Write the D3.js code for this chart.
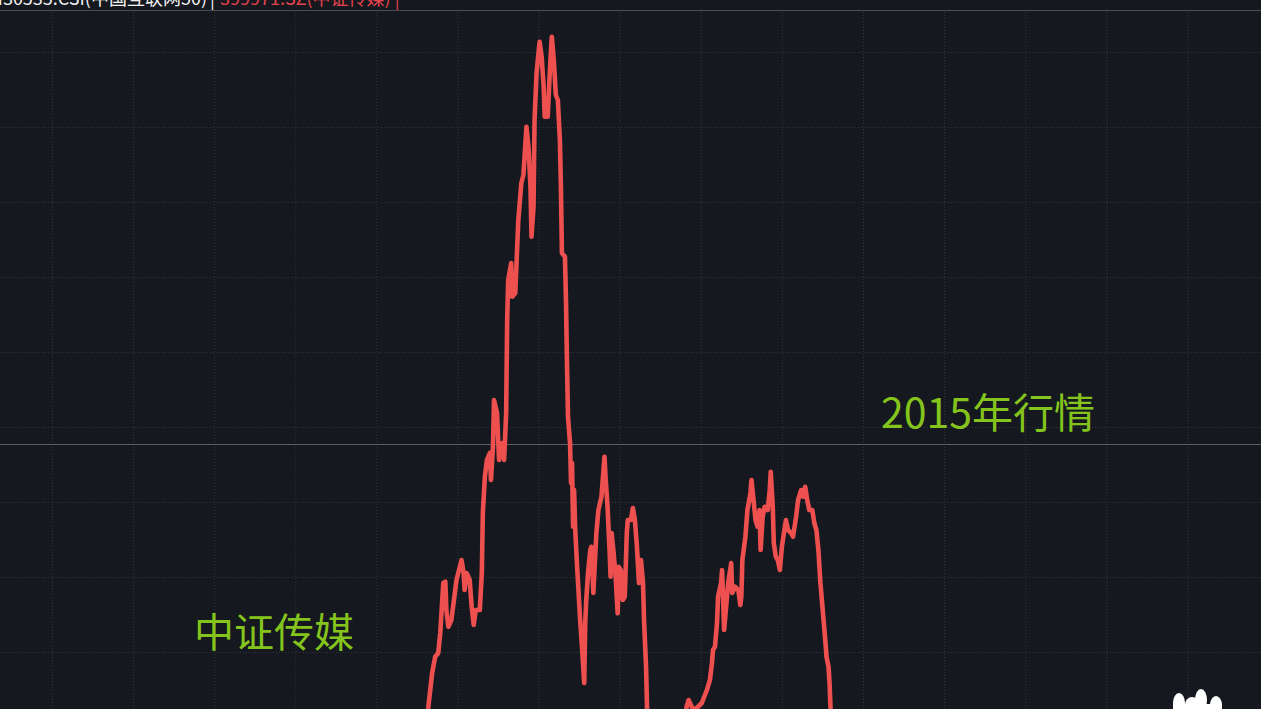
<!DOCTYPE html>
<html>
<head>
<meta charset="utf-8">
<script src="https://cdn.jsdelivr.net/npm/d3@7"></script>
<style>
  html, body { margin: 0; padding: 0; background: #15181e; overflow: hidden; }
  svg { display: block; }
  text { font-family: "Noto Sans CJK SC", "Noto Sans", sans-serif; }
</style>
</head>
<body>
<svg id="chart" width="1261" height="709"></svg>
<script>
// ---- data (trading-day index, index level of 399971.SZ 中证传媒) ----
const days = [
  363,371,375,378,381,383,386,388,389,391,394,399,404,406,407,409,412,414,416,418,
  422,424,425,427,429,432,433,435,436,439,441,444,446,448,449,450,453,454,457,460,
  463,465,468,470,472,473,475,476,478,481,483,485,486,489,491,493,495,497,499,501,
  502,503,506,507,508,509,511,512,513,514,515,516,518,521,523,525,526,527,529,531,
  532,534,536,537,539,542,545,546,548,550,551,552,554,556,558,559,561,563,565,567,
  568,571,573,575,577,579,581,583,584,586,587,588,605,623,626,628,631,634,641,646,
  649,651,652,654,656,657,660,661,663,665,667,670,671,674,677,679,680,681,684,686,
  689,690,692,694,696,698,699,701,703,706,708,709,711,712,714,716,718,720,722,724,
  726,729,731,734,736,739,741,743,745,747,750,752,754,756,758,760,763,764,766,767,
  768,770
];
const values = [
  568,772,916,981,996,1076,1276,1281,1168,1101,1128,1288,1368,1316,1248,1316,1288,1181,1108,1168,
  1168,1316,1556,1701,1768,1796,1688,1821,2008,1956,1768,1836,1768,1956,2328,2488,2556,2421,2436,2728,
  2876,2908,3101,3021,2861,2661,2781,3128,3316,3441,3381,3261,3141,3141,3316,3461,3368,3228,3208,3048,
  2861,2596,2581,2408,2156,1941,1836,1676,1756,1501,1648,1501,1341,1128,1008,876,1116,1208,1328,1408,
  1421,1236,1396,1476,1568,1621,1781,1701,1581,1408,1301,1476,1396,1301,1155,1341,1328,1208,1221,1476,
  1528,1528,1576,1528,1421,1276,1368,1276,1128,941,772,568,448,648,781,808,781,768,796,848,
  888,956,1008,1021,1116,1221,1276,1328,1088,1181,1276,1356,1236,1261,1248,1188,1221,1368,1461,1568,
  1636,1688,1608,1528,1501,1568,1408,1541,1581,1568,1648,1721,1581,1436,1381,1368,1328,1421,1476,1528,
  1488,1476,1461,1541,1608,1648,1621,1661,1608,1568,1568,1516,1488,1408,1276,1181,1036,981,941,876,
  772,568
];
const yTicks = [1000, 1300, 1600, 1900, 2200, 2500, 2800, 3100, 3400];
const xTicks = [0, 80, 160, 240, 320, 400, 480, 560, 640, 720, 800, 880, 960, 1040, 1120];
const crosshairValue = 1832;
const headerWhite = "H30535.CSI(中国互联网50)";
const headerRed = "399971.SZ(中证传媒)";
const labelSeries = "中证传媒";
const labelPeriod = "2015年行情";

// ---- layout ----
const W = 1261, H = 709;
const svg = d3.select("#chart");
const x = d3.scaleLinear().domain([0, 1200]).range([52, 52 + 81.1 * 15]);
const y = d3.scaleLinear().domain([1000, 3400]).range([652, 52]);
const headerY = 10;

svg.append("rect").attr("width", W).attr("height", H).attr("fill", "#15181e");

// grid via axes
const gx = svg.append("g").attr("transform", `translate(0,${H})`)
  .call(d3.axisBottom(x).tickValues(xTicks).tickSize(-(H - headerY)).tickFormat(""));
const gy = svg.append("g")
  .call(d3.axisLeft(y).tickValues(yTicks).tickSize(-W).tickFormat(""));
[gx, gy].forEach(g => {
  g.select(".domain").remove();
  g.selectAll(".tick line")
    .attr("stroke", "#31353d")
    .attr("stroke-width", 1)
    .attr("stroke-dasharray", "1,2");
});

// header separator
svg.append("line").attr("x1", 0).attr("x2", W)
  .attr("y1", headerY + 0.5).attr("y2", headerY + 0.5)
  .attr("stroke", "#4a4d53").attr("stroke-width", 1);

// crosshair
svg.append("line").attr("x1", 0).attr("x2", W)
  .attr("y1", Math.round(y(crosshairValue)) + 0.5).attr("y2", Math.round(y(crosshairValue)) + 0.5)
  .attr("stroke", "#5a5d62").attr("stroke-width", 1);

// series line
const data = days.map((d, i) => ({ d, v: values[i] }));
svg.append("path")
  .datum(data)
  .attr("fill", "none")
  .attr("stroke", "#ee5050")
  .attr("stroke-width", 4.6)
  .attr("stroke-linejoin", "round")
  .attr("stroke-linecap", "round")
  .attr("d", d3.line().x(p => x(p.d)).y(p => y(p.v)));

// header text (partly above the top edge, as in the source screenshot)
svg.append("text").attr("x", 207).attr("y", 5).attr("text-anchor", "end")
  .attr("font-size", 18).attr("fill", "#f0f0f0").text(headerWhite);
svg.append("text").attr("x", 210).attr("y", 5)
  .attr("font-size", 18).attr("fill", "#f0f0f0").text("|");
svg.append("text").attr("x", 220).attr("y", 5)
  .attr("font-size", 18).attr("fill", "#e5434d").text(headerRed + " |");

// annotations
svg.append("text").attr("x", 194).attr("y", 647)
  .attr("font-size", 40).attr("fill", "#84c41c").text(labelSeries);
svg.append("text").attr("x", 881).attr("y", 428)
  .attr("font-size", 41).attr("fill", "#84c41c").text(labelPeriod);

// white decoration bottom-right
const deco = svg.append("g").attr("fill", "#ffffff");
[[1179, 703, 6, 10], [1192, 705, 7, 8], [1201, 700, 6, 11], [1216, 705, 6, 9]]
  .forEach(e => deco.append("ellipse").attr("cx", e[0]).attr("cy", e[1]).attr("rx", e[2]).attr("ry", e[3]));
deco.append("rect").attr("x", 1173).attr("y", 704).attr("width", 49).attr("height", 5);
</script>
</body>
</html>
